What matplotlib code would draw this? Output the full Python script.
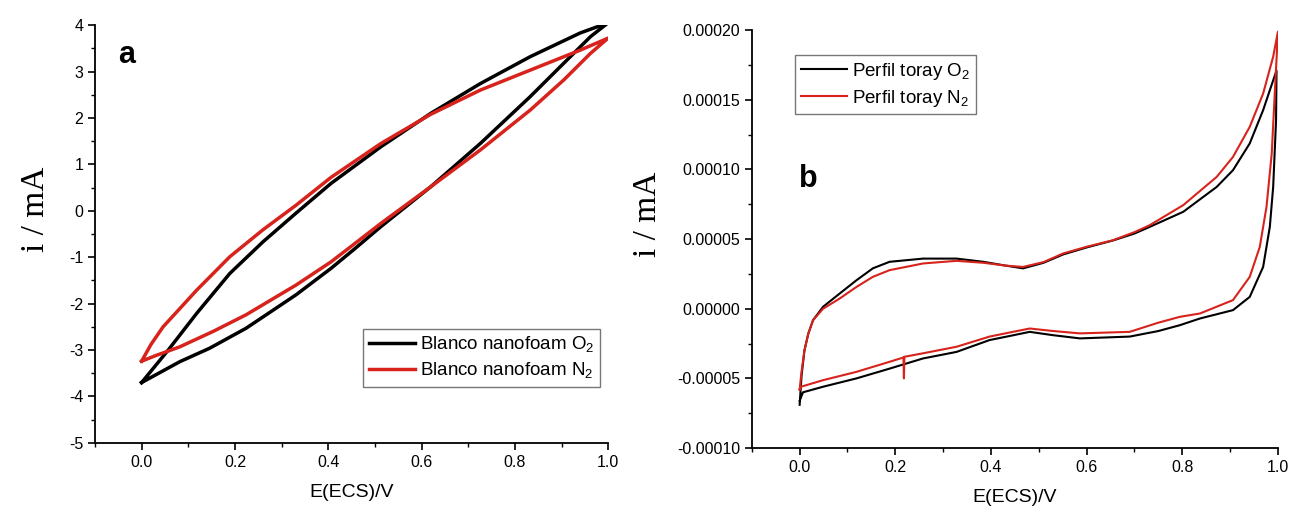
#!/usr/bin/env python3
"""Two-panel cyclic voltammetry figure: nanofoam blank (a) and toray profile (b)."""
import matplotlib.pyplot as plt
from matplotlib.ticker import MultipleLocator, FormatStrFormatter

plt.rcParams["font.family"] = ["Liberation Sans", "DejaVu Sans"]
plt.rcParams["mathtext.fontset"] = "custom"
plt.rcParams["mathtext.rm"] = "Liberation Sans"

# ---- panel a: Blanco nanofoam (mA), one closed cycle each ----
a_o2_e = [0.0, 0.057, 0.118, 0.189, 0.26, 0.331, 0.406, 0.513, 0.62, 0.726, 0.833, 0.94, 1.0,
          0.962, 0.905, 0.833, 0.726, 0.62, 0.513, 0.459, 0.406, 0.331, 0.224, 0.146, 0.082, 0.0]
a_o2_i = [-3.7, -3.0, -2.21, -1.35, -0.67, -0.05, 0.59, 1.38, 2.1, 2.74, 3.32, 3.83, 4.05,
          3.75, 3.18, 2.46, 1.45, 0.52, -0.34, -0.80, -1.24, -1.81, -2.53, -2.96, -3.25, -3.7]
a_n2_e = [0.0, 0.02, 0.046, 0.118, 0.189, 0.26, 0.331, 0.406, 0.513, 0.62, 0.726, 0.833, 0.94, 1.0,
          0.962, 0.905, 0.833, 0.726, 0.62, 0.513, 0.459, 0.406, 0.331, 0.224, 0.153, 0.082, 0.03, 0.0]
a_n2_i = [-3.24, -2.88, -2.5, -1.71, -0.99, -0.41, 0.12, 0.72, 1.45, 2.08, 2.60, 3.03, 3.46, 3.72,
          3.39, 2.82, 2.17, 1.31, 0.52, -0.27, -0.69, -1.1, -1.6, -2.24, -2.6, -2.93, -3.12, -3.24]

# ---- panel b: Perfil toray (A), values below in units of 1e-5 ----
b_o2_e = [0.0, 0.004, 0.010, 0.018, 0.028, 0.049, 0.084, 0.119, 0.153, 0.188, 0.258, 0.328,
          0.384, 0.43, 0.467, 0.51, 0.551, 0.6, 0.655, 0.70, 0.732, 0.802, 0.872, 0.906, 0.941,
          0.969, 0.99, 0.997,
          0.996, 0.99, 0.983, 0.969, 0.941, 0.906, 0.837, 0.795, 0.75, 0.69, 0.586, 0.53, 0.481,
          0.44, 0.397, 0.328, 0.258, 0.188, 0.119, 0.049, 0.007, 0.0]
b_o2_i = [-6.9, -4.8, -3.0, -1.8, -0.82, 0.14, 1.1, 2.05, 2.9, 3.37, 3.6, 3.6,
          3.37, 3.1, 2.9, 3.3, 3.9, 4.4, 4.9, 5.4, 5.88, 6.96, 8.75, 9.95, 11.87,
          14.26, 16.4, 17.1,
          13.5, 8.75, 5.88, 3.0, 0.85, -0.1, -0.7, -1.18, -1.6, -2.0, -2.13, -1.9, -1.66,
          -1.95, -2.25, -3.1, -3.57, -4.3, -5.0, -5.6, -6.0, -6.6]
b_n2_e = [0.0, 0.004, 0.010, 0.018, 0.028, 0.049, 0.084, 0.119, 0.153, 0.188, 0.258, 0.328,
          0.384, 0.43, 0.467, 0.51, 0.551, 0.6, 0.655, 0.70, 0.732, 0.802, 0.872, 0.906, 0.941,
          0.969, 0.99, 1.0,
          0.994, 0.987, 0.976, 0.962, 0.941, 0.906, 0.837, 0.795, 0.75, 0.69, 0.586, 0.53, 0.481,
          0.44, 0.397, 0.328, 0.258, 0.219, 0.218, 0.217, 0.188, 0.119, 0.049, 0.003, 0.0]
b_n2_i = [-5.8, -4.5, -3.0, -1.8, -0.82, 0.0, 0.74, 1.57, 2.29, 2.77, 3.25, 3.44,
          3.3, 3.1, 3.0, 3.35, 3.97, 4.45, 4.92, 5.5, 6.0, 7.44, 9.47, 10.9, 13.06,
          15.45, 18.1, 19.9,
          15.9, 11.15, 7.3, 4.44, 2.29, 0.62, -0.34, -0.58, -1.0, -1.66, -1.77, -1.6, -1.42,
          -1.7, -2.0, -2.73, -3.2, -3.45, -5.0, -3.5, -3.81, -4.53, -5.13, -5.6, -5.8]
b_o2_i = [v * 1e-5 for v in b_o2_i]
b_n2_i = [v * 1e-5 for v in b_n2_i]

RED = "#d7231c"

fig = plt.figure(figsize=(12.94, 5.12), dpi=100)
ax_a = fig.add_axes([0.0734, 0.135, 0.3966, 0.816])
ax_b = fig.add_axes([0.581, 0.125, 0.4066, 0.816])


def style_axes(ax):
    for side in ("top", "right"):
        ax.spines[side].set_visible(False)
    for side in ("left", "bottom"):
        ax.spines[side].set_linewidth(1.3)
    ax.tick_params(which="major", direction="out", length=5, width=1.2, labelsize=11.5)
    ax.tick_params(which="minor", direction="out", length=3, width=1.0)
    ax.xaxis.set_major_locator(MultipleLocator(0.2))
    ax.xaxis.set_minor_locator(MultipleLocator(0.1))
    ax.xaxis.set_major_formatter(FormatStrFormatter("%.1f"))
    ax.set_xlim(-0.1, 1.0)
    ax.set_xlabel("E(ECS)/V", fontsize=14, labelpad=10)
    ax.set_ylabel("i / mA", fontsize=24, family=["Liberation Serif", "DejaVu Serif"])


def add_legend(ax, **kw):
    leg = ax.legend(fontsize=13.5, handlelength=2.45, handletextpad=0.3, borderpad=0.3,
                    labelspacing=0.3, borderaxespad=0, fancybox=False, edgecolor="#777777",
                    framealpha=1, **kw)
    leg.get_frame().set_linewidth(1.0)
    return leg


# panel a
ax_a.plot(a_o2_e, a_o2_i, color="black", lw=2.5, label=r"Blanco nanofoam O$_2$")
ax_a.plot(a_n2_e, a_n2_i, color=RED, lw=2.5, label=r"Blanco nanofoam N$_2$")
style_axes(ax_a)
ax_a.yaxis.set_label_coords(-0.085, 0.56)
ax_a.set_ylim(-5, 4)
ax_a.yaxis.set_major_locator(MultipleLocator(1))
ax_a.yaxis.set_minor_locator(MultipleLocator(0.5))
ax_a.yaxis.set_major_formatter(FormatStrFormatter("%d"))
ax_a.text(0.045, 0.965, "a", transform=ax_a.transAxes, fontsize=22, fontweight="bold",
          va="top", ha="left")
add_legend(ax_a, loc="lower right", bbox_to_anchor=(0.985, 0.134))

# panel b
ax_b.plot(b_o2_e, b_o2_i, color="black", lw=1.5, label=r"Perfil toray O$_2$")
ax_b.plot(b_n2_e, b_n2_i, color=RED, lw=1.5, label=r"Perfil toray N$_2$")
style_axes(ax_b)
ax_b.yaxis.set_label_coords(-0.168, 0.56)
ax_b.set_ylim(-0.0001, 0.0002)
ax_b.yaxis.set_major_locator(MultipleLocator(0.00005))
ax_b.yaxis.set_minor_locator(MultipleLocator(0.000025))
ax_b.yaxis.set_major_formatter(FormatStrFormatter("%.5f"))
ax_b.text(0.09, 0.68, "b", transform=ax_b.transAxes, fontsize=22, fontweight="bold",
          va="top", ha="left")
add_legend(ax_b, loc="upper left", bbox_to_anchor=(0.082, 0.94))

fig.savefig("out.png", dpi=100)
